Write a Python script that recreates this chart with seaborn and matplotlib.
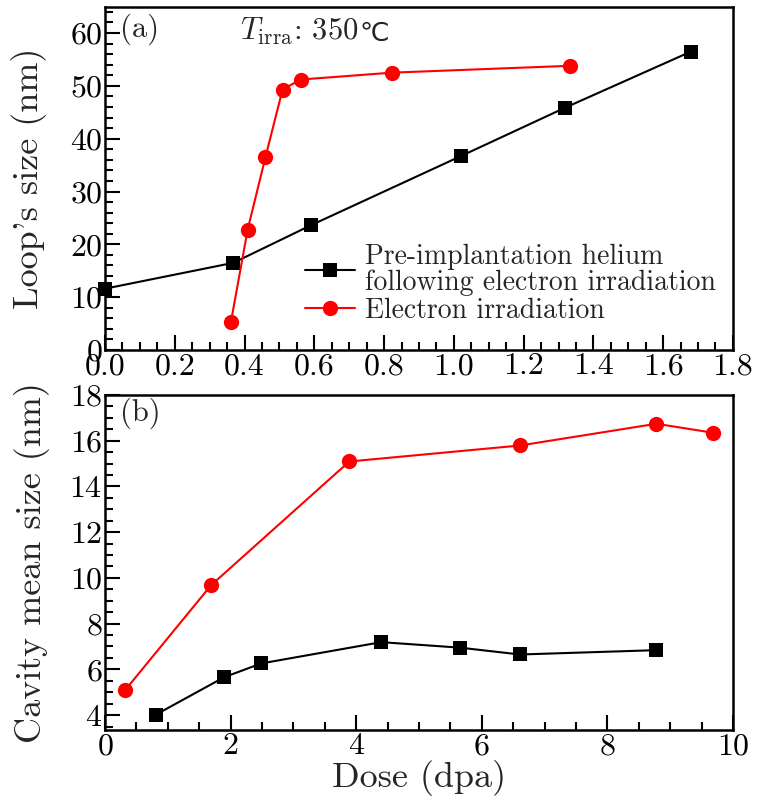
import matplotlib
matplotlib.use('Agg')
import matplotlib.pyplot as plt
import seaborn as sns
import pandas as pd
from matplotlib.ticker import MultipleLocator, FormatStrFormatter

# (a) loop size vs dose
a_dose_he = [0.0, 0.368, 0.59, 1.02, 1.32, 1.68]
a_size_he = [11.6, 16.5, 23.6, 36.7, 45.9, 56.5]
a_dose_e = [0.361, 0.409, 0.46, 0.509, 0.561, 0.822, 1.333]
a_size_e = [5.3, 22.8, 36.5, 49.3, 51.2, 52.5, 53.8]

# (b) cavity mean size vs dose
b_dose_he = [0.81, 1.90, 2.49, 4.40, 5.65, 6.61, 8.78]
b_size_he = [4.02, 5.66, 6.26, 7.19, 6.95, 6.65, 6.84]
b_dose_e = [0.32, 1.69, 3.89, 6.61, 8.78, 9.68]
b_size_e = [5.09, 9.68, 15.09, 15.79, 16.74, 16.35]

label_he = 'Pre-implantation helium\nfollowing electron irradiation'
label_e = 'Electron irradiation'

sns.set_style('ticks')
plt.rcParams['font.family'] = ['cmr10', 'DejaVu Sans']
plt.rcParams['mathtext.fontset'] = 'cm'
plt.rcParams['axes.formatter.use_mathtext'] = True
plt.rcParams['axes.unicode_minus'] = False

fig = plt.figure(figsize=(7.63, 8.09), dpi=100)
ax1 = fig.add_axes([0.1376, 0.5674, 0.823, 0.4244])
ax2 = fig.add_axes([0.1376, 0.0977, 0.823, 0.4141])

df_a_he = pd.DataFrame({'dose': a_dose_he, 'size': a_size_he})
df_a_e = pd.DataFrame({'dose': a_dose_e, 'size': a_size_e})
df_b_he = pd.DataFrame({'dose': b_dose_he, 'size': b_size_he})
df_b_e = pd.DataFrame({'dose': b_dose_e, 'size': b_size_e})

line_kw = dict(linewidth=1.5, markeredgewidth=0, sort=False, clip_on=False)
sns.lineplot(data=df_a_he, x='dose', y='size', ax=ax1, color='black', marker='s',
             markersize=10, label=label_he, **line_kw)
sns.lineplot(data=df_a_e, x='dose', y='size', ax=ax1, color='red', marker='o',
             markersize=11, label=label_e, **line_kw)
sns.lineplot(data=df_b_he, x='dose', y='size', ax=ax2, color='black', marker='s',
             markersize=10, **line_kw)
sns.lineplot(data=df_b_e, x='dose', y='size', ax=ax2, color='red', marker='o',
             markersize=11, **line_kw)

ax1.set_xlim(0, 1.8)
ax1.set_ylim(0, 65)
ax1.xaxis.set_major_locator(MultipleLocator(0.2))
ax1.xaxis.set_minor_locator(MultipleLocator(0.05))
ax1.yaxis.set_major_locator(MultipleLocator(10))
ax1.yaxis.set_minor_locator(MultipleLocator(2))
ax1.xaxis.set_major_formatter(FormatStrFormatter('%.1f'))

ax2.set_xlim(0, 10)
ax2.set_ylim(3.35, 18)
ax2.xaxis.set_major_locator(MultipleLocator(2))
ax2.xaxis.set_minor_locator(MultipleLocator(0.5))
ax2.yaxis.set_major_locator(MultipleLocator(2))
ax2.yaxis.set_minor_locator(MultipleLocator(0.5))

for ax in (ax1, ax2):
    for s in ax.spines.values():
        s.set_linewidth(1.8)
        s.set_color('black')
    ax.tick_params(which='both', direction='in', top=False, right=False,
                   width=1.5, colors='black', labelsize=23, pad=2)
    ax.tick_params(which='major', length=11)
    ax.tick_params(which='minor', length=6)

ax1.set_xlabel('')
ax1.set_ylabel("Loop's size (nm)", fontsize=26)
ax2.set_ylabel('Cavity mean size (nm)', fontsize=26)
ax2.set_xlabel('Dose (dpa)', fontsize=26, labelpad=0)
ax1.yaxis.set_label_coords(-0.092, 0.5)
ax2.yaxis.set_label_coords(-0.088, 0.5)

ax1.text(0.024, 0.933, '(a)', transform=ax1.transAxes, fontsize=22, va='center', ha='left')
t_irr = ax1.text(0.215, 0.904, r'$T_{\rm irra}$: 350', transform=ax1.transAxes,
                 fontsize=22, va='baseline', ha='left')
ax1.annotate('℃', xy=(1.0, 0.0), xycoords=t_irr, xytext=(1, 0), textcoords='offset points',
             fontsize=19, family='DejaVu Sans', va='bottom', ha='left')
ax2.text(0.024, 0.946, '(b)', transform=ax2.transAxes, fontsize=22, va='center', ha='left')

leg = ax1.legend(loc='upper left', bbox_to_anchor=(0.318, 0.31), frameon=False, fontsize=20,
                 handlelength=1.8, handletextpad=0.36, borderaxespad=0, borderpad=0,
                 labelspacing=0.05)
for t in leg.get_texts():
    t.set_linespacing(1.0)

fig.savefig('out.png', dpi=100)
